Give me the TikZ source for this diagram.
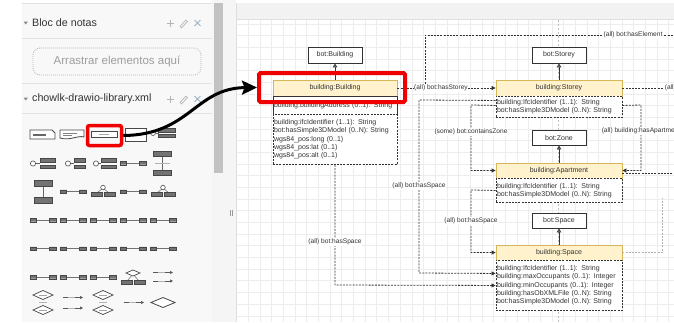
\documentclass[tikz,border=0pt]{standalone}
\usepackage{fontspec}
\setmainfont{Liberation Sans}
\usetikzlibrary{arrows.meta,calc}
\definecolor{hdrfill}{HTML}{FFF2CC}
\definecolor{hdrdraw}{HTML}{D6B656}
\definecolor{ink}{HTML}{333333}
\definecolor{gridc}{HTML}{EDEDED}
\definecolor{panelbg}{HTML}{F8F8F8}
\definecolor{sepc}{HTML}{E2E2E2}
\definecolor{hlred}{HTML}{F00000}
\definecolor{icong}{HTML}{B4B4B4}
\definecolor{iconx}{HTML}{9FB3C8}
\begin{document}
\begin{tikzpicture}[x=1pt,y=-1pt,
  cls/.style={draw=ink, fill=white, line width=0.9pt, minimum width=54pt, minimum height=16pt, inner sep=0pt, text=ink, font=\fontsize{7}{8}\selectfont},
  hdr/.style={draw=hdrdraw, fill=hdrfill, line width=0.8pt, minimum height=16pt, inner sep=0pt, text=ink, font=\fontsize{7}{8}\selectfont},
  attrbox/.style={draw=ink, fill=white, line width=0.9pt, inner xsep=1pt, inner ysep=0pt, align=left, anchor=north, text=ink, font=\fontsize{7}{8.3}\selectfont},
  dotted box/.style={attrbox, dash pattern=on 2pt off 1.2pt},
  conn/.style={draw=ink, line width=0.8pt, dash pattern=on 2pt off 1.2pt, -{Triangle[length=4pt,width=4pt]}},
  connN/.style={draw=ink, line width=0.8pt, dash pattern=on 2pt off 1.2pt},
  connL/.style={draw=black!30, line width=0.8pt, dash pattern=on 2pt off 1.2pt},
  lbl/.style={fill=white, inner sep=0.6pt, text=ink, font=\fontsize{6.6}{7}\selectfont},
  inh/.style={draw=ink, line width=0.9pt, -{Triangle[open, length=4pt, width=4.5pt]}},
  ptitle/.style={anchor=west, text=black!80, font=\fontsize{10.7}{12}\selectfont, inner sep=0pt},
  pbx/.pic={\draw[fill=black!55, draw=black!72, line width=0.4pt] (-3.3,-1.7) rectangle (3.3,1.7);},
  plink/.pic={\draw[black!55, line width=0.5pt] (-7,0) -- (7,0);
    \draw[fill=black!55, draw=black!72, line width=0.4pt] (-13,-1.7) rectangle (-6.5,1.7) (6.5,-1.7) rectangle (13,1.7);},
  pdia/.pic={\draw[fill=white, draw=black!72, line width=0.7pt] (-10,0) -- (0,-4.5) -- (10,0) -- (0,4.5) -- cycle;
    \draw[black!35, line width=0.6pt] (-4,0) -- (4,0);},
  parr/.pic={\draw[black!65, line width=0.6pt, -{Triangle[length=3pt,width=3pt]}] (-10,0) -- (10,0);
    \draw[black!30, line width=0.5pt] (-5,0.01) -- (2,0.01);},
  icons/.pic={\draw[icong, line width=0.9pt] (-3.5,0) -- (3.5,0) (0,-3.5) -- (0,3.5);
    \draw[icong, line width=0.7pt] (10,3.5) -- (16,-3) -- (17.5,-1.5) -- (11.5,5) -- cycle;
    \draw[iconx, line width=0.9pt] (24.5,-3) -- (30.5,3) (24.5,3) -- (30.5,-3);}
]
\useasboundingbox (0,0) rectangle (674,322);
\fill[white] (0,0) rectangle (674,322);

% ---------- left panel ----------
\fill[panelbg] (22,3) rectangle (212,322);
\foreach \yy in {3,38,83,113} \draw[sepc, line width=0.6pt] (22,\yy) -- (212,\yy);
\fill[black!45] (23.5,21.5) -- (28,21.5) -- (25.75,24.5) -- cycle;
\fill[black!45] (23.5,97.5) -- (28,97.5) -- (25.75,100.5) -- cycle;
\node[ptitle] (tbloc) at (32,23) {Bloc de notas};
\node[ptitle] (tlib) at (32,99) {chowlk-drawio-library.xml};
\pic at (170,23) {icons};
\pic at (170,99) {icons};
\node[draw=black!30, dash pattern=on 0.8pt off 1.2pt, line width=0.8pt, rounded corners=7pt,
  minimum width=168pt, minimum height=27pt, inner sep=0pt, text=black!38,
  font=\fontsize{11.5}{13}\selectfont] (drop) at (117,61.5) {Arrastrar elementos aquí};

% palette row 1
\draw[fill=white, draw=black!72, line width=0.8pt] (30,130) -- (52,130) -- (55,133) -- (55,139) -- (30,139) -- cycle;
\fill[black!60] (33,133.6) rectangle (46,135.6);
\draw[fill=white, draw=black!72, line width=0.8pt] (60,130) -- (84,130) -- (84,137) .. controls (78,135) and (70,141) .. (60,138) -- cycle;
\fill[black!50] (63,132.5) rectangle (77,133.7);
\fill[black!50] (63,135) rectangle (72,136.2);
\draw[fill=white, draw=black!72, line width=0.8pt] (91,131.5) rectangle (117,137.5);
\fill[black!35] (99,134) rectangle (109,135);
\draw[fill=white, draw=black!72, line width=0.8pt] (125,128) rectangle (146,141);
\draw[fill=white, draw=black!70, line width=0.6pt] (153,133) circle (2.5pt);
\draw[black!60, line width=0.5pt] (155.5,133) -- (158.5,133);
\draw[fill=black!55, draw=black!72, line width=0.4pt] (158.5,128.5) rectangle (175,132) (158.5,134) rectangle (175,137.5);
% palette row 2
\foreach \cx/\bx/\bw in {33/40/15, 68/74/11, 96/101/15} {
  \draw[fill=white, draw=black!70, line width=0.6pt] (\cx,163.5) circle (2.6pt);
  \draw[black!60, line width=0.5pt] (\cx+2.6,163.5) -- (\bx,163.5);
  \draw[fill=black!55, draw=black!72, line width=0.4pt] (\bx,158.5) rectangle (\bx+\bw,162) (\bx,165) rectangle (\bx+\bw,168.5);
}
\pic at (133,163) {plink};
\draw[black!60, line width=0.5pt] (162.5,156) -- (162.5,170);
\draw[black!30, line width=0.5pt] (155,163) -- (170,163);
\draw[fill=black!55, draw=black!72, line width=0.4pt] (153.5,151) rectangle (171.5,156) (153.5,170) rectangle (171.5,175);
% palette row 3
\draw[black!60, line width=0.5pt] (43,186) -- (43,197);
\draw[fill=black!55, draw=black!72, line width=0.4pt] (34,180) rectangle (52,186) (34,197) rectangle (52,203);
\pic at (73,191.5) {plink};
\pic at (133,191.5) {plink};
\foreach \cx in {103,163} {
  \draw[black!60, line width=0.5pt] (\cx-6,193) -- (\cx,188) -- (\cx+6,193);
  \draw[fill=white, draw=black!70, line width=0.6pt] (\cx,187.5) circle (2.3pt);
  \draw[fill=black!55, draw=black!72, line width=0.4pt] (\cx-12,192.5) rectangle (\cx-1,196.5) (\cx+1,192.5) rectangle (\cx+12,196.5);
}
% palette rows 4,5
\foreach \cx in {43,73,103,133,163} {
  \pic at (\cx,220) {plink};
  \pic at (\cx,248.5) {plink};
}
% palette row 6
\foreach \cx in {43,73,103} \pic at (\cx,277) {plink};
\draw[black!60, line width=0.5pt] (127,281) -- (133,274) -- (139,281);
\draw[fill=white, draw=black!72, line width=0.7pt] (126,273) -- (133,270) -- (140,273) -- (133,276) -- cycle;
\draw[fill=black!55, draw=black!72, line width=0.4pt] (121,280) rectangle (132,284) (134,280) rectangle (145,284);
\pic at (163,272.5) {parr};
\pic at (163,281) {parr};
% palette row 7
\foreach \cx in {43,103} {
  \pic at (\cx,295) {pdia};
  \pic at (\cx,310) {pdia};
  \draw[black!30, line width=0.5pt] (\cx-4,302.5) -- (\cx+4,302.5);
}
\pic at (73,297.5) {parr};
\pic at (73,308) {parr};
\pic at (134,302.5) {parr};
\draw[fill=white, draw=black!72, line width=0.8pt] (151,302.5) -- (163,297.5) -- (175,302.5) -- (163,307.5) -- cycle;
% selection square in palette
\node[draw=hlred, line width=3.5pt, rounded corners=2pt, minimum width=34pt, minimum height=20pt, inner sep=0pt] (psel) at (104.5,135.5) {};

% ---------- scrollbar and divider ----------
\fill[black!4] (212,0) rectangle (236,322);
\fill[black!24] (213.5,3) rectangle (223,173);
\draw[black!40, line width=0.5pt] (229.8,210) -- (229.8,216) (232.2,210) -- (232.2,216);

% ---------- canvas ----------
\fill[white] (236,20) rectangle (674,322);
\foreach \i in {0,...,38} \draw[gridc, line width=0.5pt] (236.7+\i*11.67,20) -- (236.7+\i*11.67,322);
\foreach \i in {0,...,25} \draw[gridc, line width=0.5pt] (236,24+\i*11.67) -- (674,24+\i*11.67);
\fill[black!5] (236,3) rectangle (674,19.5);
\draw[black!13, line width=0.6pt] (236,19.5) -- (674,19.5);
\draw[black!13, line width=0.6pt] (236,3) -- (236,322);
\draw[black!25, line width=0.6pt, dash pattern=on 2pt off 2pt] (558,20) -- (558,322);

\begin{scope}
\clip (236,20) rectangle (674,322);
% class nodes
\node[cls] (bb) at (335,55) {bot:Building};
\node[cls] (bs) at (559,55) {bot:Storey};
\node[cls, minimum height=15pt] (bz) at (559,137.5) {bot:Zone};
\node[cls, minimum height=15pt] (bsp) at (559,220.5) {bot:Space};

\node[hdr, minimum width=124pt] (bbh) at (335,88) {building:Building};
\node[attrbox, minimum width=124pt, text width=122pt, minimum height=18pt] (bba) at (335,96) {building:buildingAddress (0..1): String};
\node[dotted box, minimum width=124pt, text width=122pt, minimum height=50pt] (bbt) at (335,114) {building:ifcIdentifier (1..1): String\\bot:hasSimple3DModel (0..N): String\\wgs84\_pos:long (0..1)\\wgs84\_pos:lat (0..1)\\wgs84\_pos:alt (0..1)};

\node[hdr, minimum width=126pt] (sh) at (559,88) {building:Storey};
\node[dotted box, minimum width=126pt, text width=124pt, minimum height=21pt] (stt) at (559,96) {building:IfcIdentifier (1..1): String\\bot:hasSimple3DModel (0..N): String};

\node[hdr, minimum width=126pt, minimum height=15pt] (ah) at (559,170.5) {building:Apartment};
\node[dotted box, minimum width=126pt, text width=124pt, minimum height=24pt] (att) at (559,178) {building:IfcIdentifier (1..1): String\\bot:hasSimple3DModel (0..N): String};

\node[hdr, minimum width=126pt, minimum height=15pt] (sph) at (559,252.5) {building:Space};
\node[dotted box, minimum width=126pt, text width=124pt, minimum height=50pt] (spt) at (559,260) {building:IfcIdentifier (1..1): String\\building:maxOccupants (0..1): Integer\\building:minOccupants (0..1): Integer\\building:hasObXMLFile (0..N): String\\bot:hasSimple3DModel (0..N): String};

% inheritance
\draw[inh] (bbh.north) -- (bb.south);
\draw[inh] (sh.north) -- (bs.south);
\draw[inh] (ah.north) -- (bz.south);
\draw[inh] (sph.north) -- (bsp.south);

% free ends
\coordinate (elout) at (690,35);
\coordinate (stout) at (690,88);
\coordinate (apout) at (690,173);
\coordinate (spup) at (662,198);

% connectors
\draw[connN] (bbh.east) -- (425,88) -- (425,35) -- (elout);
\node[lbl] (lel) at (633,35) {(all) bot:hasElement};
\draw[conn] (bbh.east) -- (sh.west);
\node[lbl] (lst) at (441,88) {(all) bot:hasStorey};
\draw[connN] (sh.east) -- (stout);
\node[lbl, anchor=west] (lst2) at (664,88) {(all) bot:hasElement};

\draw[conn] ([yshift=1.5pt]stt.west) -- (471,105) -- (471,170.5) -- (ah.west);
\node[lbl] (lcz) at (471,132) {(some) bot:containsZone};

\draw[conn] ([yshift=1.5pt]stt.east) -- (641,105) -- (641,170.5) -- (ah.east);
\node[lbl] (lap) at (641,131) {(all) building:hasApartment};
\draw[connN] ([yshift=-2.5pt]ah.east) -- (apout);

\draw[conn] (att.west) -- (471,190) -- (471,252.5) -- (sph.west);
\node[lbl] (lhs1) at (471,221) {(all) bot:hasSpace};

\draw[conn] ([yshift=6.5pt]stt.west) -- (419,100) -- (419,273) -- ([yshift=12pt]spt.west);
\node[lbl] (lhs2) at (419,186) {(all) bot:hasSpace};

\draw[conn] (bbt.south) -- (335,285) -- (spt.west);
\node[lbl] (lhs3) at (335,242) {(all) bot:hasSpace};

\draw[connL] (sph.east) -- (662,252.5) -- (spup);

% highlight
\node[draw=hlred, line width=4pt, rounded corners=1.5pt, minimum width=146pt, minimum height=29pt, inner sep=0pt] (hl) at (332,87.5) {};
\end{scope}

% curved arrow
\draw[black, line width=3pt, -{Stealth[length=15pt,width=14pt,inset=2.5pt]}] (psel.east) .. controls (190,135) and (195,88) .. (hl.west);
\end{tikzpicture}
\end{document}
